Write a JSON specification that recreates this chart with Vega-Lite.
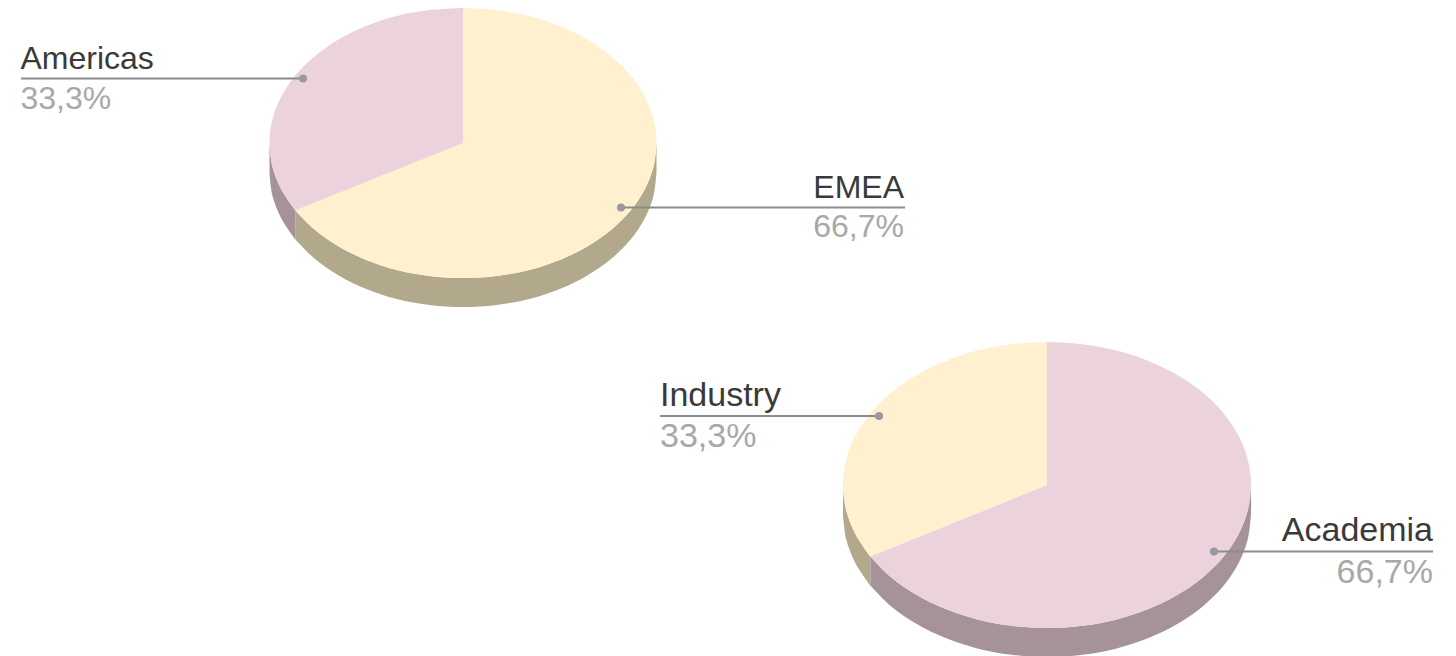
{"$schema":"https://vega.github.io/schema/vega-lite/v6.json","width":1456,"height":656,"autosize":{"type":"none"},"padding":0,"background":"#ffffff","view":{"stroke":null},"datasets":{"outlines":[
{"s":"EMEA side","i":0,"x":656.5,"y":143},{"s":"EMEA side","i":1,"x":656.5,"y":143},{"s":"EMEA side","i":2,"x":653.6,"y":166.4},{"s":"EMEA side","i":3,"x":644.8,"y":189.2},{"s":"EMEA side","i":4,"x":630.6,"y":210.5},{"s":"EMEA side","i":5,"x":611.2,"y":229.8},{"s":"EMEA side","i":6,"x":587.4,"y":246.4},{"s":"EMEA side","i":7,"x":559.8,"y":259.9},{"s":"EMEA side","i":8,"x":529.2,"y":269.9},{"s":"EMEA side","i":9,"x":496.6,"y":275.9},{"s":"EMEA side","i":10,"x":463,"y":278},{"s":"EMEA side","i":11,"x":429.4,"y":275.9},{"s":"EMEA side","i":12,"x":396.8,"y":269.9},{"s":"EMEA side","i":13,"x":366.2,"y":259.9},{"s":"EMEA side","i":14,"x":338.6,"y":246.4},{"s":"EMEA side","i":15,"x":314.8,"y":229.8},{"s":"EMEA side","i":16,"x":295.4,"y":210.5},{"s":"EMEA side","i":17,"x":295.4,"y":210.5},{"s":"EMEA side","i":18,"x":295.4,"y":239.5},{"s":"EMEA side","i":19,"x":295.4,"y":239.5},{"s":"EMEA side","i":20,"x":314.8,"y":258.8},{"s":"EMEA side","i":21,"x":338.6,"y":275.4},{"s":"EMEA side","i":22,"x":366.2,"y":288.9},{"s":"EMEA side","i":23,"x":396.8,"y":298.9},{"s":"EMEA side","i":24,"x":429.4,"y":304.9},{"s":"EMEA side","i":25,"x":463,"y":307},{"s":"EMEA side","i":26,"x":496.6,"y":304.9},{"s":"EMEA side","i":27,"x":529.2,"y":298.9},{"s":"EMEA side","i":28,"x":559.8,"y":288.9},{"s":"EMEA side","i":29,"x":587.4,"y":275.4},{"s":"EMEA side","i":30,"x":611.2,"y":258.8},{"s":"EMEA side","i":31,"x":630.6,"y":239.5},{"s":"EMEA side","i":32,"x":644.8,"y":218.2},{"s":"EMEA side","i":33,"x":653.6,"y":195.4},{"s":"EMEA side","i":34,"x":656.5,"y":172},{"s":"EMEA side","i":35,"x":656.5,"y":172},
{"s":"Americas side","i":0,"x":295.4,"y":210.5},{"s":"Americas side","i":1,"x":295.4,"y":210.5},{"s":"Americas side","i":2,"x":281.2,"y":189.2},{"s":"Americas side","i":3,"x":272.4,"y":166.4},{"s":"Americas side","i":4,"x":269.5,"y":143},{"s":"Americas side","i":5,"x":269.5,"y":143},{"s":"Americas side","i":6,"x":269.5,"y":172},{"s":"Americas side","i":7,"x":269.5,"y":172},{"s":"Americas side","i":8,"x":272.4,"y":195.4},{"s":"Americas side","i":9,"x":281.2,"y":218.2},{"s":"Americas side","i":10,"x":295.4,"y":239.5},{"s":"Americas side","i":11,"x":295.4,"y":239.5},
{"s":"Academia side","i":0,"x":1251,"y":485},{"s":"Academia side","i":1,"x":1251,"y":485},{"s":"Academia side","i":2,"x":1247.9,"y":509.8},{"s":"Academia side","i":3,"x":1238.7,"y":533.9},{"s":"Academia side","i":4,"x":1223.7,"y":556.5},{"s":"Academia side","i":5,"x":1203.3,"y":576.9},{"s":"Academia side","i":6,"x":1178.1,"y":594.5},{"s":"Academia side","i":7,"x":1149,"y":608.8},{"s":"Academia side","i":8,"x":1116.8,"y":619.4},{"s":"Academia side","i":9,"x":1082.4,"y":625.8},{"s":"Academia side","i":10,"x":1047,"y":628},{"s":"Academia side","i":11,"x":1011.6,"y":625.8},{"s":"Academia side","i":12,"x":977.2,"y":619.4},{"s":"Academia side","i":13,"x":945,"y":608.8},{"s":"Academia side","i":14,"x":915.9,"y":594.5},{"s":"Academia side","i":15,"x":890.7,"y":576.9},{"s":"Academia side","i":16,"x":870.3,"y":556.5},{"s":"Academia side","i":17,"x":870.3,"y":556.5},{"s":"Academia side","i":18,"x":870.3,"y":585.5},{"s":"Academia side","i":19,"x":870.3,"y":585.5},{"s":"Academia side","i":20,"x":890.7,"y":605.9},{"s":"Academia side","i":21,"x":915.9,"y":623.5},{"s":"Academia side","i":22,"x":945,"y":637.8},{"s":"Academia side","i":23,"x":977.2,"y":648.4},{"s":"Academia side","i":24,"x":1011.6,"y":654.8},{"s":"Academia side","i":25,"x":1047,"y":657},{"s":"Academia side","i":26,"x":1082.4,"y":654.8},{"s":"Academia side","i":27,"x":1116.8,"y":648.4},{"s":"Academia side","i":28,"x":1149,"y":637.8},{"s":"Academia side","i":29,"x":1178.1,"y":623.5},{"s":"Academia side","i":30,"x":1203.3,"y":605.9},{"s":"Academia side","i":31,"x":1223.7,"y":585.5},{"s":"Academia side","i":32,"x":1238.7,"y":562.9},{"s":"Academia side","i":33,"x":1247.9,"y":538.8},{"s":"Academia side","i":34,"x":1251,"y":514},{"s":"Academia side","i":35,"x":1251,"y":514},
{"s":"Industry side","i":0,"x":870.3,"y":556.5},{"s":"Industry side","i":1,"x":870.3,"y":556.5},{"s":"Industry side","i":2,"x":855.3,"y":533.9},{"s":"Industry side","i":3,"x":846.1,"y":509.8},{"s":"Industry side","i":4,"x":843,"y":485},{"s":"Industry side","i":5,"x":843,"y":485},{"s":"Industry side","i":6,"x":843,"y":514},{"s":"Industry side","i":7,"x":843,"y":514},{"s":"Industry side","i":8,"x":846.1,"y":538.8},{"s":"Industry side","i":9,"x":855.3,"y":562.9},{"s":"Industry side","i":10,"x":870.3,"y":585.5},{"s":"Industry side","i":11,"x":870.3,"y":585.5},
{"s":"EMEA top","i":0,"x":463,"y":143},{"s":"EMEA top","i":1,"x":463,"y":143},{"s":"EMEA top","i":2,"x":463,"y":8},{"s":"EMEA top","i":3,"x":463,"y":8},{"s":"EMEA top","i":4,"x":496.6,"y":10.1},{"s":"EMEA top","i":5,"x":529.2,"y":16.1},{"s":"EMEA top","i":6,"x":559.8,"y":26.1},{"s":"EMEA top","i":7,"x":587.4,"y":39.6},{"s":"EMEA top","i":8,"x":611.2,"y":56.2},{"s":"EMEA top","i":9,"x":630.6,"y":75.5},{"s":"EMEA top","i":10,"x":644.8,"y":96.8},{"s":"EMEA top","i":11,"x":653.6,"y":119.6},{"s":"EMEA top","i":12,"x":656.5,"y":143},{"s":"EMEA top","i":13,"x":653.6,"y":166.4},{"s":"EMEA top","i":14,"x":644.8,"y":189.2},{"s":"EMEA top","i":15,"x":630.6,"y":210.5},{"s":"EMEA top","i":16,"x":611.2,"y":229.8},{"s":"EMEA top","i":17,"x":587.4,"y":246.4},{"s":"EMEA top","i":18,"x":559.8,"y":259.9},{"s":"EMEA top","i":19,"x":529.2,"y":269.9},{"s":"EMEA top","i":20,"x":496.6,"y":275.9},{"s":"EMEA top","i":21,"x":463,"y":278},{"s":"EMEA top","i":22,"x":429.4,"y":275.9},{"s":"EMEA top","i":23,"x":396.8,"y":269.9},{"s":"EMEA top","i":24,"x":366.2,"y":259.9},{"s":"EMEA top","i":25,"x":338.6,"y":246.4},{"s":"EMEA top","i":26,"x":314.8,"y":229.8},{"s":"EMEA top","i":27,"x":295.4,"y":210.5},{"s":"EMEA top","i":28,"x":295.4,"y":210.5},{"s":"EMEA top","i":29,"x":463,"y":143},{"s":"EMEA top","i":30,"x":463,"y":143},
{"s":"Americas top","i":0,"x":463,"y":143},{"s":"Americas top","i":1,"x":463,"y":143},{"s":"Americas top","i":2,"x":295.4,"y":210.5},{"s":"Americas top","i":3,"x":295.4,"y":210.5},{"s":"Americas top","i":4,"x":281.2,"y":189.2},{"s":"Americas top","i":5,"x":272.4,"y":166.4},{"s":"Americas top","i":6,"x":269.5,"y":143},{"s":"Americas top","i":7,"x":272.4,"y":119.6},{"s":"Americas top","i":8,"x":281.2,"y":96.8},{"s":"Americas top","i":9,"x":295.4,"y":75.5},{"s":"Americas top","i":10,"x":314.8,"y":56.2},{"s":"Americas top","i":11,"x":338.6,"y":39.6},{"s":"Americas top","i":12,"x":366.2,"y":26.1},{"s":"Americas top","i":13,"x":396.8,"y":16.1},{"s":"Americas top","i":14,"x":429.4,"y":10.1},{"s":"Americas top","i":15,"x":463,"y":8},{"s":"Americas top","i":16,"x":463,"y":8},{"s":"Americas top","i":17,"x":463,"y":143},{"s":"Americas top","i":18,"x":463,"y":143},
{"s":"Academia top","i":0,"x":1047,"y":485},{"s":"Academia top","i":1,"x":1047,"y":485},{"s":"Academia top","i":2,"x":1047,"y":342},{"s":"Academia top","i":3,"x":1047,"y":342},{"s":"Academia top","i":4,"x":1082.4,"y":344.2},{"s":"Academia top","i":5,"x":1116.8,"y":350.6},{"s":"Academia top","i":6,"x":1149,"y":361.2},{"s":"Academia top","i":7,"x":1178.1,"y":375.5},{"s":"Academia top","i":8,"x":1203.3,"y":393.1},{"s":"Academia top","i":9,"x":1223.7,"y":413.5},{"s":"Academia top","i":10,"x":1238.7,"y":436.1},{"s":"Academia top","i":11,"x":1247.9,"y":460.2},{"s":"Academia top","i":12,"x":1251,"y":485},{"s":"Academia top","i":13,"x":1247.9,"y":509.8},{"s":"Academia top","i":14,"x":1238.7,"y":533.9},{"s":"Academia top","i":15,"x":1223.7,"y":556.5},{"s":"Academia top","i":16,"x":1203.3,"y":576.9},{"s":"Academia top","i":17,"x":1178.1,"y":594.5},{"s":"Academia top","i":18,"x":1149,"y":608.8},{"s":"Academia top","i":19,"x":1116.8,"y":619.4},{"s":"Academia top","i":20,"x":1082.4,"y":625.8},{"s":"Academia top","i":21,"x":1047,"y":628},{"s":"Academia top","i":22,"x":1011.6,"y":625.8},{"s":"Academia top","i":23,"x":977.2,"y":619.4},{"s":"Academia top","i":24,"x":945,"y":608.8},{"s":"Academia top","i":25,"x":915.9,"y":594.5},{"s":"Academia top","i":26,"x":890.7,"y":576.9},{"s":"Academia top","i":27,"x":870.3,"y":556.5},{"s":"Academia top","i":28,"x":870.3,"y":556.5},{"s":"Academia top","i":29,"x":1047,"y":485},{"s":"Academia top","i":30,"x":1047,"y":485},
{"s":"Industry top","i":0,"x":1047,"y":485},{"s":"Industry top","i":1,"x":1047,"y":485},{"s":"Industry top","i":2,"x":870.3,"y":556.5},{"s":"Industry top","i":3,"x":870.3,"y":556.5},{"s":"Industry top","i":4,"x":855.3,"y":533.9},{"s":"Industry top","i":5,"x":846.1,"y":509.8},{"s":"Industry top","i":6,"x":843,"y":485},{"s":"Industry top","i":7,"x":846.1,"y":460.2},{"s":"Industry top","i":8,"x":855.3,"y":436.1},{"s":"Industry top","i":9,"x":870.3,"y":413.5},{"s":"Industry top","i":10,"x":890.7,"y":393.1},{"s":"Industry top","i":11,"x":915.9,"y":375.5},{"s":"Industry top","i":12,"x":945,"y":361.2},{"s":"Industry top","i":13,"x":977.2,"y":350.6},{"s":"Industry top","i":14,"x":1011.6,"y":344.2},{"s":"Industry top","i":15,"x":1047,"y":342},{"s":"Industry top","i":16,"x":1047,"y":342},{"s":"Industry top","i":17,"x":1047,"y":485},{"s":"Industry top","i":18,"x":1047,"y":485}
],"callouts":[
{"name":"Americas","share":"33,3%","value":33.3,"pie":"top","side":"left","tx":20.5,"lx":21,"dot":303,"ly":78.5,"ny":69,"py":109},
{"name":"EMEA","share":"66,7%","value":66.7,"pie":"top","side":"right","tx":904,"lx":905,"dot":621,"ly":207.5,"ny":198,"py":237},
{"name":"Industry","share":"33,3%","value":33.3,"pie":"bottom","side":"left","tx":660,"lx":660,"dot":879,"ly":416,"ny":406,"py":447},
{"name":"Academia","share":"66,7%","value":66.7,"pie":"bottom","side":"right","tx":1433,"lx":1433,"dot":1214,"ly":551.5,"ny":541,"py":583}
]},
"layer":[
{"data":{"name":"outlines"},"mark":{"type":"line","filled":true,"interpolate":"catmull-rom","strokeWidth":0},"encoding":{
"x":{"field":"x","type":"quantitative","scale":{"domain":[0,1456],"nice":false,"zero":false},"axis":null},
"y":{"field":"y","type":"quantitative","scale":{"domain":[656,0],"nice":false,"zero":false},"axis":null},
"order":{"field":"i","type":"quantitative"},
"color":{"field":"s","type":"nominal","legend":null,"scale":{"domain":["EMEA side","Americas side","Academia side","Industry side","EMEA top","Americas top","Academia top","Industry top"],"range":["#b2a88c","#a5929b","#a5929b","#b2a88c","#fff0cf","#ecd2dd","#ecd2dd","#fff0cf"]}}}},
{"data":{"name":"callouts"},"mark":{"type":"rule","color":"#8c8c8c","strokeWidth":2},"encoding":{"x":{"field":"lx","type":"quantitative"},"x2":{"field":"dot"},"y":{"field":"ly","type":"quantitative"}}},
{"data":{"name":"callouts"},"mark":{"type":"point","filled":true,"opacity":1,"color":"#9a9a9e","size":64},"encoding":{"x":{"field":"dot","type":"quantitative"},"y":{"field":"ly","type":"quantitative"}}},
{"data":{"name":"callouts"},"transform":[{"filter":"datum.side==='left'"}],"mark":{"type":"text","align":"left","baseline":"alphabetic","font":"Liberation Sans","color":"#3a3a3a"},"encoding":{"x":{"field":"tx","type":"quantitative"},"y":{"field":"ny","type":"quantitative"},"text":{"field":"name"},"size":{"condition":{"test":"datum.pie==='bottom'","value":34},"value":32}}},
{"data":{"name":"callouts"},"transform":[{"filter":"datum.side==='right'"}],"mark":{"type":"text","align":"right","baseline":"alphabetic","font":"Liberation Sans","color":"#3a3a3a"},"encoding":{"x":{"field":"tx","type":"quantitative"},"y":{"field":"ny","type":"quantitative"},"text":{"field":"name"},"size":{"condition":{"test":"datum.pie==='bottom'","value":34},"value":32}}},
{"data":{"name":"callouts"},"transform":[{"filter":"datum.side==='left'"}],"mark":{"type":"text","align":"left","baseline":"alphabetic","font":"Liberation Sans","color":"#a8a8a8"},"encoding":{"x":{"field":"tx","type":"quantitative"},"y":{"field":"py","type":"quantitative"},"text":{"field":"share"},"size":{"condition":{"test":"datum.pie==='bottom'","value":34},"value":32}}},
{"data":{"name":"callouts"},"transform":[{"filter":"datum.side==='right'"}],"mark":{"type":"text","align":"right","baseline":"alphabetic","font":"Liberation Sans","color":"#a8a8a8"},"encoding":{"x":{"field":"tx","type":"quantitative"},"y":{"field":"py","type":"quantitative"},"text":{"field":"share"},"size":{"condition":{"test":"datum.pie==='bottom'","value":34},"value":32}}}
]}
